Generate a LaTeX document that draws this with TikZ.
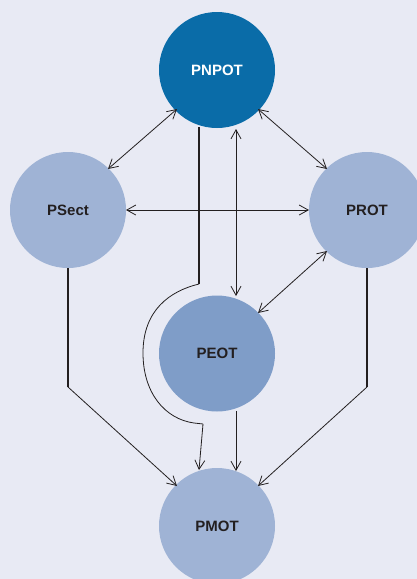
\documentclass[tikz,border=0pt]{standalone}
\usepackage{fontspec}
\setmainfont{Liberation Sans}
\usetikzlibrary{arrows.meta}
\definecolor{bgpanel}{HTML}{E8EAF4}
\definecolor{topblue}{HTML}{0A6CA8}
\definecolor{paleblue}{HTML}{9FB3D5}
\definecolor{midblue}{HTML}{7F9DC8}
\definecolor{inkgray}{HTML}{231F20}
\tikzset{
  plan/.style={circle, minimum size=116pt, inner sep=0pt, draw=none,
    font=\bfseries\fontsize{15}{18}\selectfont, text=inkgray},
  link/.style={draw=inkgray, line width=0.8pt},
  barb/.style={link, {Straight Barb[length=9pt,width=10pt]}-{Straight Barb[length=9pt,width=10pt]}},
  tobarb/.style={link, -{Straight Barb[length=9pt,width=10pt]}},
  stem/.style={draw=inkgray, line width=1.3pt},
}
\begin{document}
\begin{tikzpicture}[x=1pt,y=-1pt]
  \fill[bgpanel] (0,0) rectangle (417,579);
  \useasboundingbox (0,0) rectangle (417,579);
  \begin{scope}
    \clip (0,0) rectangle (417,579);
    \node[plan, fill=topblue, text=white] (pnpot) at (217,70) {PNPOT};
    \node[plan, fill=paleblue] (psect) at (68,210) {PSect};
    \node[plan, fill=paleblue] (prot) at (367,210) {PROT};
    \node[plan, fill=midblue] (peot) at (217,353.5) {PEOT};
    \node[plan, fill=paleblue] (pmot) at (217,526) {PMOT};
  \end{scope}

  % links between the plans
  \coordinate (a1) at (177,109);  \coordinate (a2) at (108,169);
  \coordinate (b1) at (258,109);  \coordinate (b2) at (327,169);
  \coordinate (c1) at (126,210);  \coordinate (c2) at (309,210);
  \coordinate (d1) at (236,129);  \coordinate (d2) at (236,296);
  \coordinate (e1) at (327,251);  \coordinate (e2) at (258,313);
  \draw[barb] (a1) -- (a2);
  \draw[barb] (b1) -- (b2);
  \draw[barb] (c1) -- (c2);
  \draw[barb] (d1) -- (d2);
  \draw[barb] (e1) -- (e2);

  % side plans down to PMOT
  \coordinate (s0) at (68,268);  \coordinate (s1) at (68,387);  \coordinate (s2) at (177,486);
  \coordinate (r0) at (367,268); \coordinate (r1) at (367,387); \coordinate (r2) at (258,486);
  \draw[stem] (s0) -- (s1);
  \draw[tobarb] (s1) -- (s2);
  \draw[stem] (r0) -- (r1);
  \draw[tobarb] (r1) -- (r2);

  % PEOT to PMOT
  \coordinate (p0) at (236,411); \coordinate (p1) at (236,471);
  \draw[tobarb] (p0) -- (p1);

  % PNPOT to PMOT, passing round PEOT
  \coordinate (n0) at (199,127); \coordinate (n1) at (199,284);
  \coordinate (nb) at (194,423);
  \coordinate (n2) at (203,424); \coordinate (n3) at (199,470);
  \draw[stem] (n0) -- (n1);
  \draw[link] (n1) .. controls (170,291) and (143,310) .. (143,353)
                   .. controls (143,393) and (165,419) .. (nb) -- (n2);
  \draw[tobarb] (n2) -- (n3);
\end{tikzpicture}
\end{document}
